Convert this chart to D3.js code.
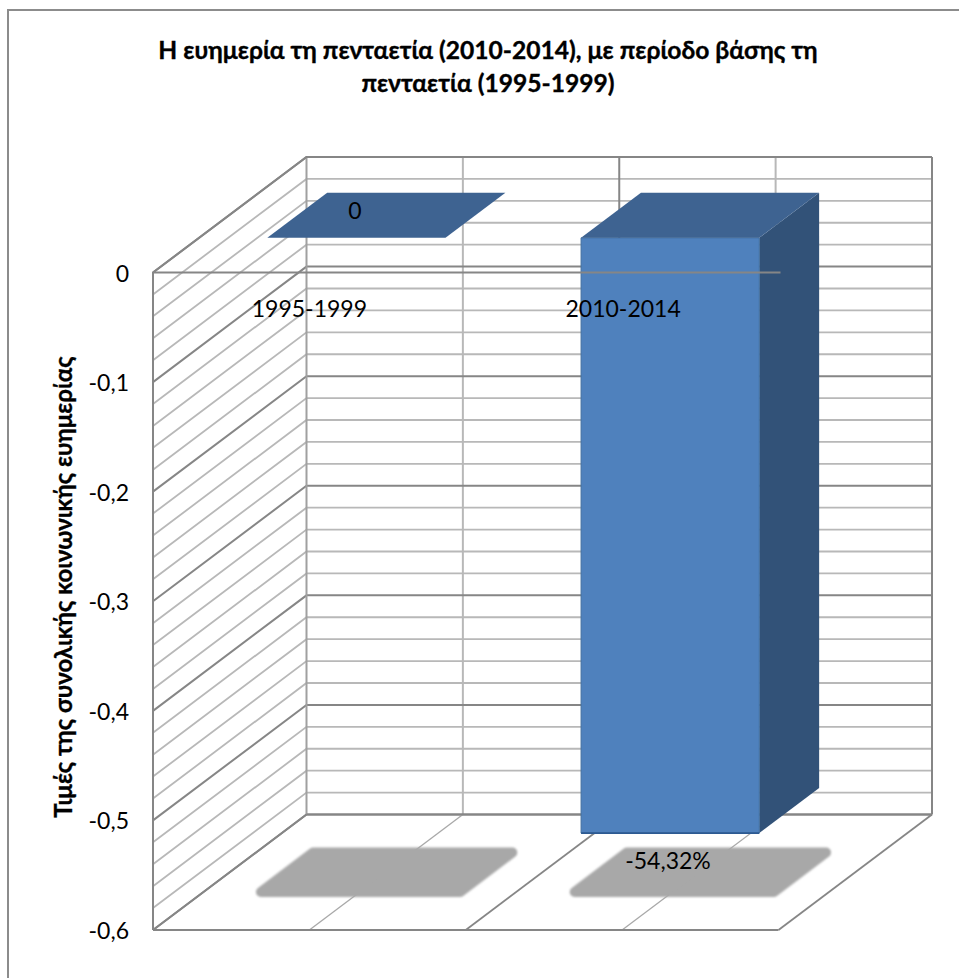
<!DOCTYPE html>
<html><head><meta charset="utf-8">
<style>html,body{margin:0;padding:0;background:#fff}svg{display:block}text{font-family:Lato,"Open Sans","Noto Sans",sans-serif;fill:#000}</style>
<script src="https://cdn.jsdelivr.net/npm/d3@7"></script>
</head><body><svg id="c" width="959" height="978"></svg>
<script>
const titleLines = ["Η ευημερία τη πενταετία (2010-2014), με περίοδο βάσης τη","πενταετία (1995-1999)"];
const yTitle = "Τιμές της συνολικής κοινωνικής ευημερίας";
const categories = ["1995-1999","2010-2014"];
const values = [0,-0.5432];
const valueLabels = ["0","-54,32%"];
const yTicks = [0,-0.1,-0.2,-0.3,-0.4,-0.5,-0.6];
const yTickLabels = ["0","-0,1","-0,2","-0,3","-0,4","-0,5","-0,6"];

const svg = d3.select("#c");
const DX = 153.5, DY = -115.5;
const y = d3.scaleLinear().domain([0,-0.6]).range([272.5,930]);
const x = d3.scaleBand().domain(categories).range([153.5,781]).paddingInner(0.432).paddingOuter(0.216);
const xEdge = d3.scaleLinear().domain([0,4]).range([153,778.5]);
const P = (px,v,t)=>[px+DX*t, y(v)+DY*t];
const line = d3.line();
const MAJOR="#868686", MINOR="#b8b8b8";
const minorVals = d3.range(0,31).map(i=>-i/50);
const isMajor = v=>Math.abs(v*10-Math.round(v*10))<1e-6;

// chart frame
svg.append("path").attr("d","M8,978V10H959").attr("fill","none").attr("stroke","#8c8c8c").attr("stroke-width",2);

const xl=153, xr=778.5;
// minor gridlines of side and back walls
minorVals.filter(v=>!isMajor(v)).forEach(v=>{
  svg.append("path").attr("d",line([P(xl,v,0),P(xl,v,1),P(xr,v,1)])).attr("fill","none").attr("stroke",MINOR).attr("stroke-width",1.8);
});
[1,3].forEach(i=>{
  const px=P(xEdge(i),0,1)[0];
  svg.append("line").attr("x1",px).attr("x2",px).attr("y1",P(0,0,1)[1]).attr("y2",P(0,-0.6,1)[1]).attr("stroke",MINOR).attr("stroke-width",2);
});
// major gridlines
yTicks.forEach(v=>{
  svg.append("path").attr("d",line([P(xl,v,0),P(xl,v,1),P(xr,v,1)])).attr("fill","none").attr("stroke",MAJOR).attr("stroke-width",2);
});
[0,2,4].forEach(i=>{
  const px=P(xEdge(i),0,1)[0];
  svg.append("line").attr("x1",px).attr("x2",px).attr("y1",P(0,0,1)[1]).attr("y2",P(0,-0.6,1)[1]).attr("stroke",i===0?"#a0a0a0":MAJOR).attr("stroke-width",2);
});
svg.append("path").attr("d",line([P(xl,-0.6,0),P(xl,0,0),P(xl,0,1),P(xr,0,1)])).attr("fill","none").attr("stroke",MAJOR).attr("stroke-width",2);

// shadows on the floor
const defs = svg.append("defs");
defs.append("filter").attr("id","soft").attr("x","-10%").attr("y","-20%").attr("width","120%").attr("height","140%")
  .append("feGaussianBlur").attr("stdDeviation",1.2);
const tF=0.30, tB=0.69, tS0=0.33, tS1=0.67;
categories.forEach(c=>{
  const a=x(c)-11, b=x(c)+x.bandwidth()+10;
  const pts=[P(a,-0.6,tS0),P(a,-0.6,tS1),P(b,-0.6,tS1),P(b,-0.6,tS0)];
  svg.append("path").attr("d",line(pts)+"Z").attr("fill","#a8a8a8").attr("stroke","#a8a8a8")
    .attr("stroke-width",10).attr("stroke-linejoin","round").attr("filter","url(#soft)");
});
// floor gridlines
d3.range(0,5).forEach(i=>{
  const a=P(xEdge(i),-0.6,0), b=P(xEdge(i),-0.6,1);
  svg.append("path").attr("d",line([a,b])).attr("stroke",i%2?"#a8a8a8":MAJOR).attr("stroke-width",i%2?1.3:1.8).attr("fill","none");
});
svg.append("path").attr("d",line([P(xl,-0.6,1),P(xr,-0.6,1)])).attr("stroke",MAJOR).attr("stroke-width",2);
svg.append("path").attr("d",line([P(xl,-0.6,0),P(xr,-0.6,0)])).attr("stroke",MAJOR).attr("stroke-width",2);

// bars
categories.forEach((c,i)=>{
  const v=values[i], a=x(c), b=a+x.bandwidth();
  const poly=(pts,fill)=>svg.append("path").attr("d",line(pts)+"Z").attr("fill",fill);
  if(v<0){
    poly([P(b,0,tF),P(b,0,tB),P(b,v,tB),P(b,v,tF)],"#325278");
    svg.append("path").attr("d",line([P(a,0,tF),P(b,0,tF),P(b,v,tF),P(a,v,tF)])+"Z").attr("fill","#4f81bd")
      .attr("stroke","#44709f").attr("stroke-width",1);
    svg.append("path").attr("d",line([P(a,v,tF),P(b,v,tF)])).attr("stroke","#2c5a92").attr("stroke-width",1.6);
  }
  poly([P(a,0,tF),P(a,0,tB),P(b,0,tB),P(b,0,tF)],"#3e6391");
});

// category axis line at zero
svg.append("line").attr("x1",xl).attr("x2",xr+2).attr("y1",y(0)).attr("y2",y(0)).attr("stroke",MAJOR).attr("stroke-width",2);

// text
const FS=23;
yTicks.forEach((v,i)=>{
  svg.append("text").attr("x",129).attr("y",y(v)+9).attr("text-anchor","end").attr("font-size",FS).text(yTickLabels[i]);
});
categories.forEach(c=>{
  svg.append("text").attr("x",x(c)+x.bandwidth()/2-1).attr("y",317).attr("text-anchor","middle").attr("font-size",FS).text(c);
});
svg.append("text").attr("x",355).attr("y",219).attr("text-anchor","middle").attr("font-size",FS).text(valueLabels[0]);
svg.append("text").attr("x",668).attr("y",869).attr("text-anchor","middle").attr("font-size",FS).text(valueLabels[1]);
titleLines.forEach((t,i)=>{
  svg.append("text").attr("x",488).attr("y",59+i*32.5).attr("text-anchor","middle").attr("font-size",24.6).attr("font-weight",700)
    .style("stroke","#000").style("stroke-width",0.35).text(t);
});
svg.append("text").attr("transform","translate(72,587) rotate(-90)").attr("text-anchor","middle").attr("font-size",24.1).attr("font-weight",700)
  .style("stroke","#000").style("stroke-width",0.35).text(yTitle);
</script>
</body></html>
